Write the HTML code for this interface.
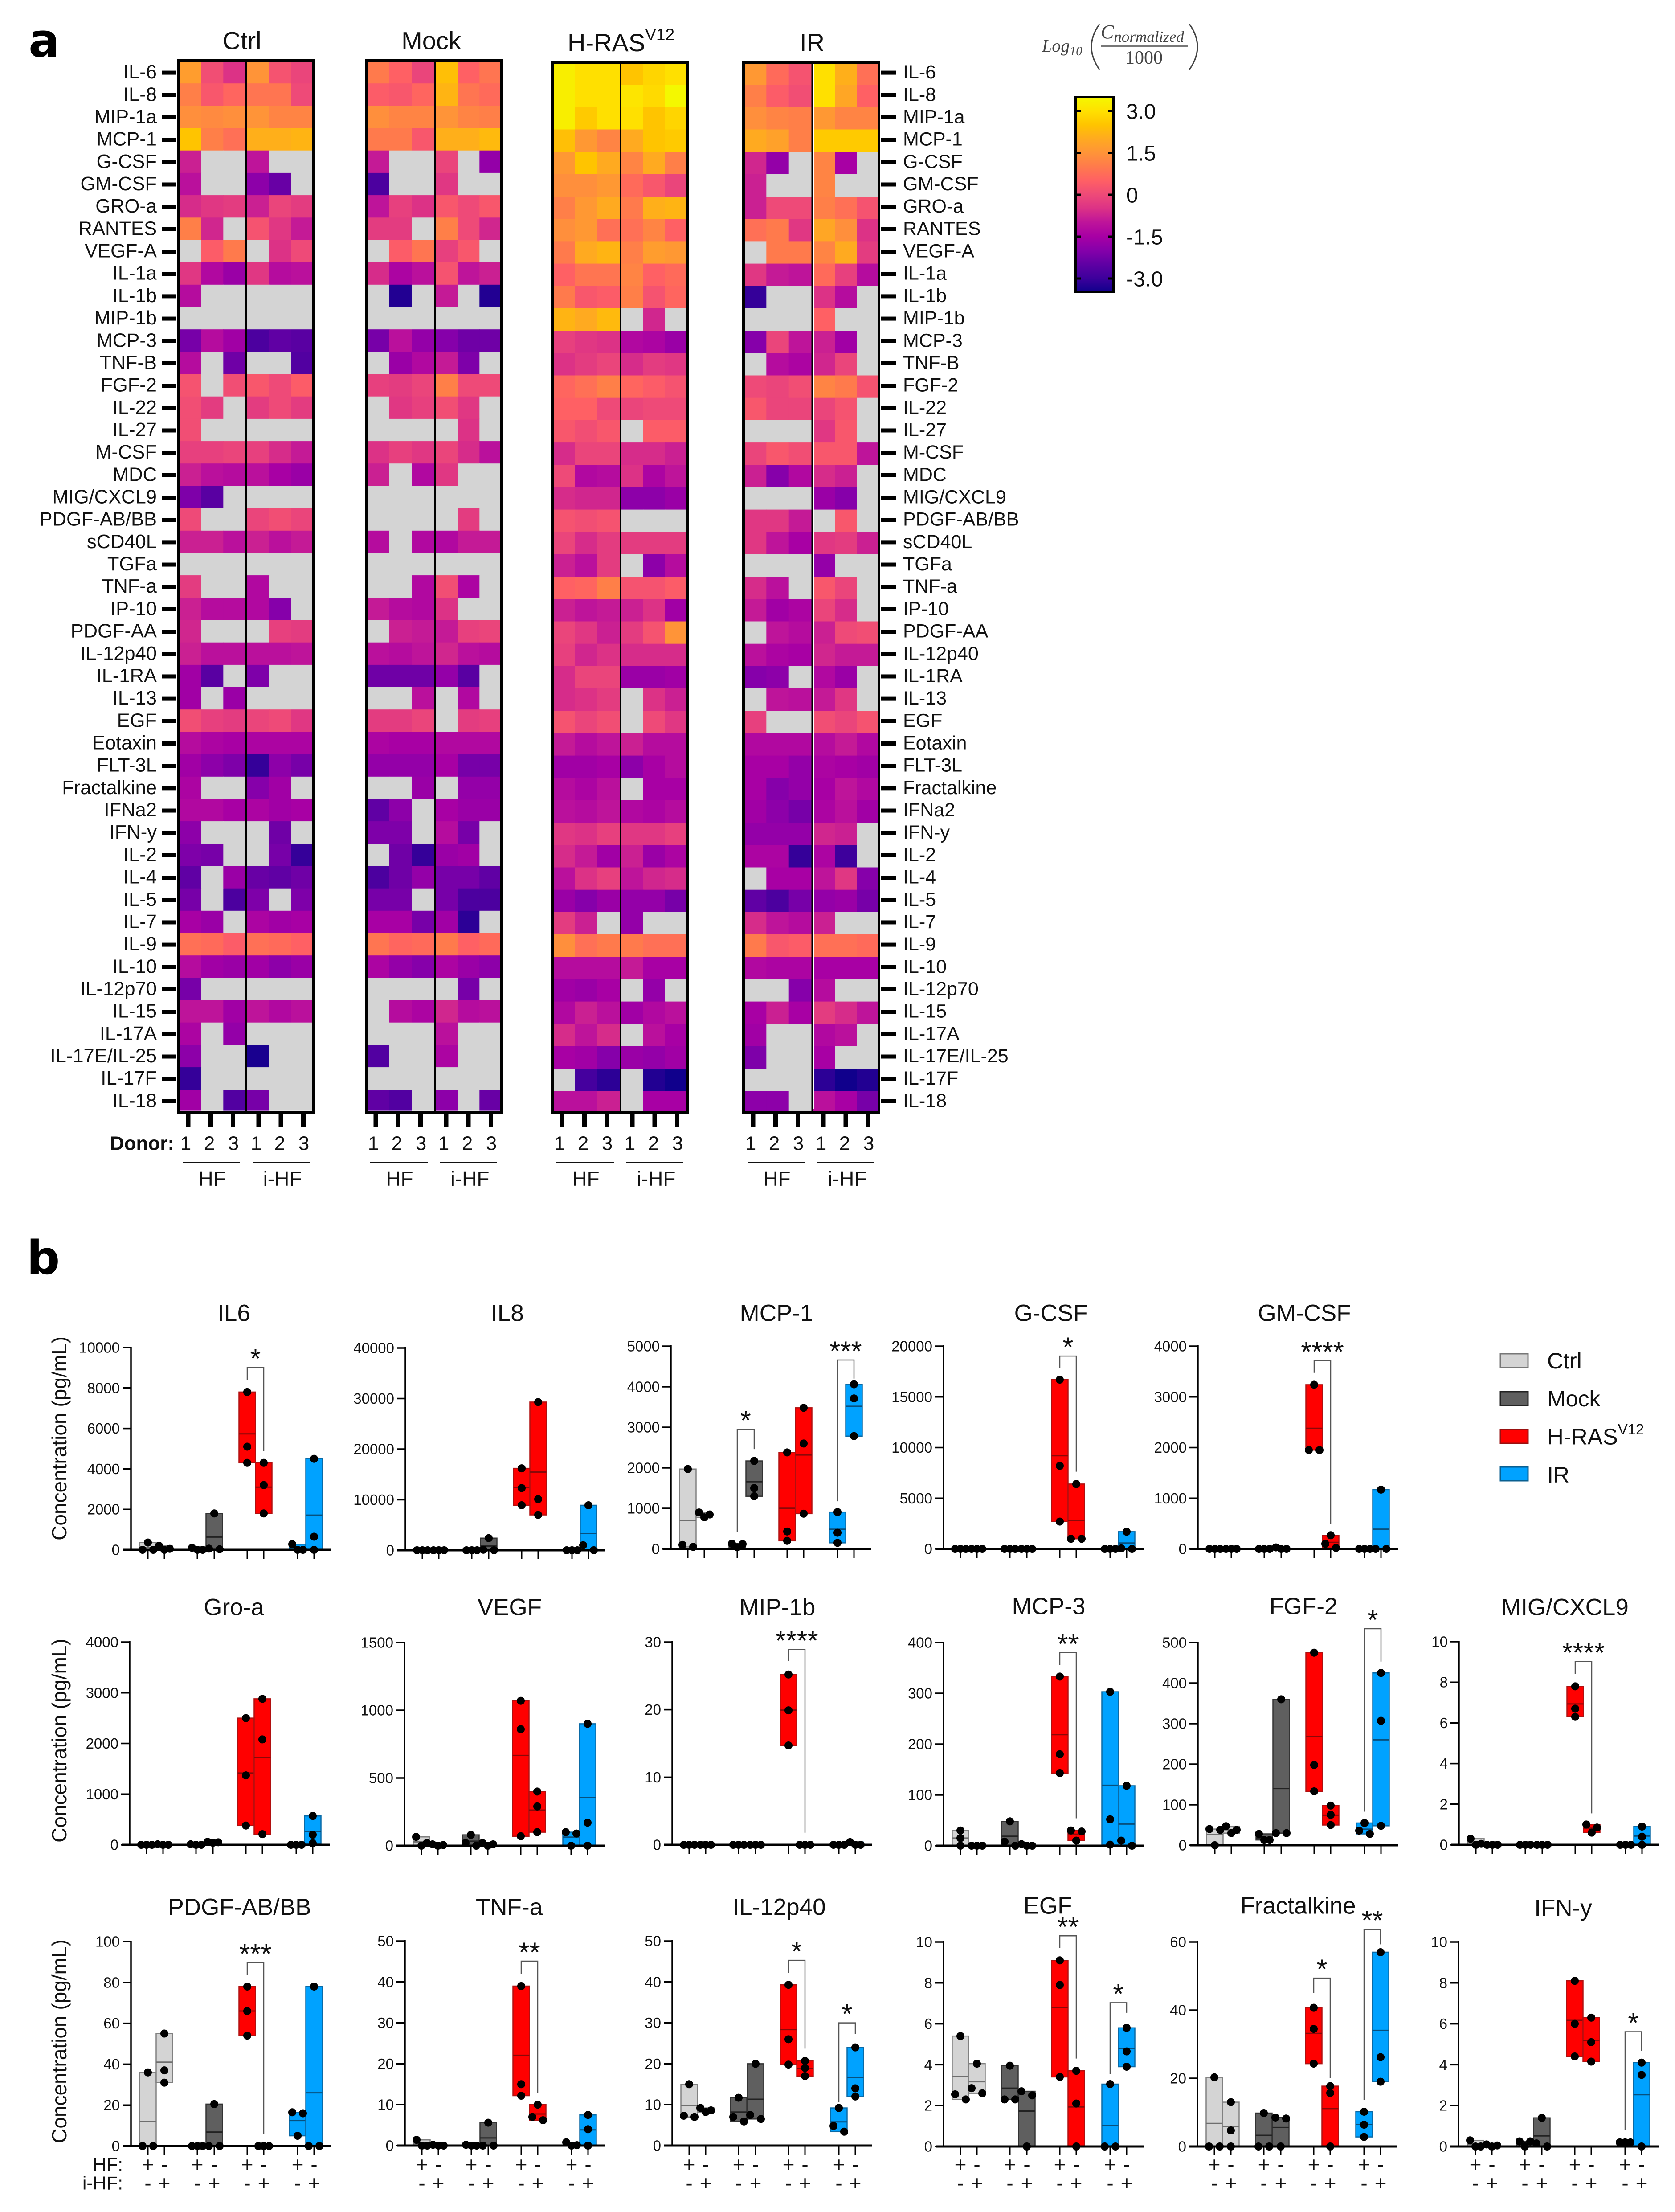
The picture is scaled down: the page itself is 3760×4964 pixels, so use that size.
<!DOCTYPE html>
<html lang="en">
<head>
<meta charset="utf-8">
<title>Cytokine heatmap and concentration charts</title>
<style>
html,body{margin:0;padding:0;background:#fff;}
svg{display:block;}
text{font-family:"Liberation Sans",Arial,sans-serif;fill:#111;}
.serif{font-family:"Liberation Serif",serif;font-style:italic;fill:#444;}
</style>
</head>
<body>
<svg id="figure" xmlns="http://www.w3.org/2000/svg" width="3760" height="4964" viewBox="0 0 3760 4964">
  <rect x="0" y="0" width="3760" height="4964" fill="#ffffff"/>
  <text x="64" y="127" font-size="104" font-weight="bold" style="font-family:'DejaVu Sans',sans-serif;fill:#000">a</text>
  <text x="60" y="2859" font-size="104" font-weight="bold" style="font-family:'DejaVu Sans',sans-serif;fill:#000">b</text>

  <g>
    <text class="serif" x="2339" y="116" font-size="40">Log<tspan font-size="28" dy="8">10</tspan></text>
    <path d="M2468 54 Q2432 105 2468 156" fill="none" stroke="#444" stroke-width="3"/>
    <text class="serif" x="2471" y="86" font-size="44">C<tspan font-size="35" dy="8">normalized</tspan></text>
    <rect x="2471" y="101" width="195" height="4" fill="#777"/>
    <text class="serif" x="2568" y="143" font-size="42" text-anchor="middle" style="font-style:normal">1000</text>
    <path d="M2670 54 Q2706 105 2670 156" fill="none" stroke="#444" stroke-width="3"/>
  </g>

  <g>
    <g>
      <rect x="3368" y="3038" width="62" height="31" fill="#d4d4d4" stroke="#777" stroke-width="3"/>
      <text x="3473" y="3054" font-size="50" dominant-baseline="central">Ctrl</text>
    </g>
    <g>
      <rect x="3368" y="3123" width="62" height="31" fill="#5f5f5f" stroke="#222" stroke-width="3"/>
      <text x="3473" y="3139" font-size="50" dominant-baseline="central">Mock</text>
    </g>
    <g>
      <rect x="3368" y="3208" width="62" height="31" fill="#ff0000" stroke="#991111" stroke-width="3"/>
      <text x="3473" y="3224" font-size="51" dominant-baseline="central">H-RAS<tspan font-size="33" dy="-17">V12</tspan></text>
    </g>
    <g>
      <rect x="3368" y="3292" width="62" height="31" fill="#00a2ff" stroke="#0a5f90" stroke-width="3"/>
      <text x="3473" y="3310" font-size="50" dominant-baseline="central">IR</text>
    </g>
  </g>
</svg>

<script>
const n = null;
const rowLabels = ["IL-6","IL-8","MIP-1a","MCP-1","G-CSF","GM-CSF","GRO-a","RANTES","VEGF-A","IL-1a","IL-1b","MIP-1b","MCP-3","TNF-B","FGF-2","IL-22","IL-27","M-CSF","MDC","MIG/CXCL9","PDGF-AB/BB","sCD40L","TGFa","TNF-a","IP-10","PDGF-AA","IL-12p40","IL-1RA","IL-13","EGF","Eotaxin","FLT-3L","Fractalkine","IFNa2","IFN-y","IL-2","IL-4","IL-5","IL-7","IL-9","IL-10","IL-12p70","IL-15","IL-17A","IL-17E/IL-25","IL-17F","IL-18"];
const donorLabels = ["1","2","3","1","2","3"];
const colorbarTicks = [3.0,1.5,0,-1.5,-3.0];
const colorbarTickLabels = ["3.0","1.5","0","-1.5","-3.0"];

const ctrlValues = [
[1.7,.1,-.5,1.5,.2,-.1],[1.1,.3,.6,.9,.9,0],[1.4,1.3,1.4,1.5,1.2,1.2],[2.5,1.1,.8,2.1,2.1,2.2],
[-.8,n,n,-1.0,n,n],[-1.1,n,n,-1.9,-2.4,n],[-.6,-.4,-.3,-.8,-.1,-.3],[1.1,-.7,n,.2,-.4,-.9],
[n,.4,1.0,n,-.5,0],[-.4,-1.3,-1.7,-.4,-1.2,-1.1],[-1.2,n,n,n,n,n],[n,n,n,n,n,n],
[-2.2,-1.2,-1.6,-2.8,-2.5,-2.6],[-1.2,n,-2.3,n,n,-2.7],[.2,n,.1,.3,0,.4],[.1,-.3,n,-.3,0,-.3],
[.1,n,n,n,n,n],[-.2,-.2,-.1,-.2,-.6,-.9],[-.8,-1.1,-1.2,-1.1,-1.5,-1.7],[-2.1,-2.6,n,n,n,n],
[0,n,n,-.1,.1,-.1],[-.8,-.8,-1.1,-.8,-1.1,-.9],[n,n,n,n,n,n],[-.3,n,n,-1.3,n,n],
[-.8,-1.2,-1.2,-1.3,-2.0,n],[-.7,n,n,n,-.2,-.3],[-.8,-1.1,-1.1,-1.1,-1.1,-1.0],[-1.6,-2.6,n,-2.1,n,n],
[-1.6,n,-1.7,n,n,n],[.1,-.2,-.3,-.1,0,-.4],[-1.2,-1.4,-1.5,-1.4,-1.4,-1.4],[-1.6,-1.9,-2.1,-3.1,-1.9,-2.2],
[-1.4,n,n,-2.0,-1.6,n],[-1.3,-1.3,-1.5,-1.4,-1.6,-1.5],[-1.9,n,n,n,-2.3,n],[-2.1,-2.2,n,n,-2.2,-3.1],
[-2.5,n,-1.7,-2.4,-2.5,-2.3],[-2.2,n,-2.8,-2.1,n,-2.1],[-1.5,-1.7,n,-1.4,-1.6,-1.5],[.8,.7,.4,.8,.7,.5],
[-1.2,-1.6,-1.7,-1.6,-1.9,-1.7],[-2.2,n,n,n,n,n],[-1.0,-1.0,-1.6,-1.0,-1.3,-1.1],[-1.4,n,-1.8,n,n,n],
[-1.9,n,n,-3.4,n,n],[-3.1,n,n,n,n,n],[-1.6,n,-2.7,-2.2,n,n]
];
const mockValues = [
[1.0,.5,-.1,2.4,.5,.9],[.4,.3,.6,2.2,.9,.7],[1.4,1.2,1.2,1.5,1.2,1.1],[1.0,1.0,.3,2.1,2.1,2.3],
[-.9,n,n,-.1,n,-1.8],[-2.8,n,n,-.4,n,n],[-1.0,-.2,-.5,.3,0,.3],[-.3,-.3,n,1.1,0,-.7],
[n,.4,.9,-.2,.3,n],[-.6,-1.4,-1.1,.2,-1.0,-.8],[n,-3.3,n,-.9,n,-3.3],[n,n,n,n,n,n],
[-2.2,-1.1,-1.8,-2.0,-2.3,-2.3],[n,-1.7,-1.3,-.9,-2.1,n],[-.2,-.3,-.1,1.1,0,0],[n,-.4,-.2,.1,-.4,n],
[n,n,n,n,-.5,n],[-.5,-.2,-.4,-.1,-.6,-1.1],[-.8,n,-1.3,-.4,n,n],[n,n,n,n,n,n],
[n,n,n,n,-.3,n],[-1.2,n,-1.3,-1.3,-.9,-.9],[n,n,n,n,n,n],[n,n,-1.3,.1,-1.4,n],
[-.9,-1.2,-1.3,-.5,n,n],[n,-.8,-.9,-.9,-.2,-.1],[-1.1,-1.2,-1.0,-.7,-1.1,-1.2],[-2.3,-2.3,-2.3,-1.8,-2.6,n],
[n,n,-1.1,n,-1.3,n],[-.3,-.3,-.1,n,-.3,-.2],[-1.4,-1.5,-1.5,-1.3,-1.3,-1.3],[-1.8,-1.8,-1.8,-1.5,-2.2,-2.2],
[n,n,-1.7,n,-1.8,-1.8],[-2.5,-1.9,n,-1.5,-1.7,-1.7],[-2.1,-2.1,n,-1.2,-2.2,n],[n,-2.3,-3.1,-1.7,-1.6,n],
[-2.8,-2.3,-1.8,-2.2,-2.2,-2.5],[-2.2,-2.2,n,-2.2,-2.8,-2.8],[-1.5,-1.5,-2.2,-1.6,-3.2,n],[.9,.6,.7,1.0,.5,.7],
[-1.4,-1.8,-2.0,-1.4,-1.7,-1.9],[n,n,n,n,-2.2,n],[n,-1.2,-1.4,-.7,-1.2,-1.1],[n,n,n,-1.1,n,n],
[-2.7,n,n,-1.4,n,n],[n,n,n,n,n,n],[-2.5,-2.7,n,-1.9,n,-2.4]
];
const hrasValues = [
[3.3,3.0,3.0,2.5,2.8,3.0],[3.3,3.0,3.0,3.1,2.9,3.5],[3.3,2.6,3.0,3.0,2.5,2.8],[2.4,1.6,1.2,2.0,2.5,2.6],
[1.6,2.5,2.0,1.2,2.0,1.1],[1.4,1.4,1.6,.7,.3,-.1],[1.1,1.6,2.0,1.0,2.1,2.2],[1.4,1.6,.8,.8,1.2,.5],
[1.0,2.0,2.2,1.1,1.7,1.6],[.5,.9,.9,1.2,.5,.7],[1.0,.3,.4,1.1,.2,.6],[2.2,2.0,2.3,n,-.7,n],
[-.2,-.4,-.5,-1.3,-1.4,-1.7],[-.5,-.3,-.1,-.6,-.3,-.4],[.6,.8,1.1,.6,.4,.2],[.5,.5,0,-.1,0,0],
[.3,.1,.3,n,.4,.4],[-.6,-.1,-.1,-.6,-.6,-.8],[0,-1.3,-1.2,-.5,-1.4,-1.0],[-.6,-.7,-.7,-1.9,-1.9,-1.7],
[.2,.1,.2,n,n,n],[-.1,-.6,-.3,-.3,-.3,-.3],[-.8,-1.1,-.3,n,-1.9,-1.2],[.5,.6,1.1,.2,.2,.4],
[-.8,-1.0,-.9,-.8,-.5,-1.6],[-.1,-.4,-.8,-.3,.2,1.5],[-.2,-.7,-.5,-.6,-.6,-.6],[-.6,-.1,-.1,-1.7,-1.7,-1.6],
[-.6,-.5,-.3,n,-.5,-.8],[.2,-.1,.1,n,0,-.4],[-.9,-1.2,-1.0,-.8,-1.2,-1.2],[-1.6,-1.6,-1.5,-1.9,-1.5,-1.2],
[-1.2,-1.4,-1.1,n,-1.5,-1.5],[-1.1,-1.2,-1.0,-1.3,-1.4,-1.2],[-.4,-.5,-.2,-.4,-.4,-.2],[-.6,-.9,-1.6,-.8,-1.7,-1.4],
[-1.1,-.5,-.2,-1.0,-.7,-.6],[-1.7,-2.0,-1.7,-1.8,-1.8,-2.2],[-.3,-.8,n,-1.8,n,n],[1.4,.8,1.0,1.0,.8,.8],
[-1.2,-1.2,-1.2,-.9,-1.5,-1.5],[-1.6,-1.7,-1.5,n,-1.8,n],[-1.3,-.8,-1.1,-1.6,-1.3,-1.1],[-.6,-1.0,-.6,n,-1.1,-1.5],
[-1.5,-1.6,-2.0,-1.7,-1.8,-1.6],[n,-2.9,-3.2,n,-3.3,-3.5],[-1.1,-1.1,-.8,n,-1.5,-1.5]
];
const irValues = [
[1.6,.7,.2,3.0,2.1,.8],[1.1,.4,.1,3.0,1.9,.5],[1.4,1.2,1.1,1.6,1.2,1.2],[2.0,1.8,1.1,2.6,2.6,2.6],
[-.7,-1.8,n,1.2,-1.5,n],[-.8,n,n,1.2,n,n],[-.8,0,0,1.1,.8,.2],[.8,1.0,-.4,1.9,1.4,-.5],
[n,1.0,1.0,1.2,2.0,-.3],[-.4,-.9,-1.0,.7,-.2,-1.2],[-3.1,n,n,-.5,-1.2,n],[n,n,n,.5,n,n],
[-2.0,-.1,-1.0,-.8,-1.6,n],[n,-1.2,-1.4,-.7,-.1,n],[0,-.1,.1,1.2,1.0,.2],[.3,-.1,-.1,-.1,.2,n],
[n,n,n,-.4,.3,n],[-.1,.3,.1,.3,.3,-1.0],[-.8,-2.0,-1.3,-.6,-.8,n],[n,n,n,-1.7,-2.0,n],
[-.4,-.4,-.9,n,.3,n],[-.4,-1.0,-1.5,-.4,-.3,-.8],[n,n,n,-1.8,n,n],[-.6,-1.1,n,.3,-.1,n],
[-.9,-1.6,-1.4,-.1,-.6,n],[n,-1.0,-1.2,-.8,0,.1],[-1.1,-1.4,-1.5,-.7,-.9,-.9],[-2.0,-1.9,n,-1.3,-1.7,n],
[n,-1.0,-1.1,-.9,-.4,n],[-.2,n,n,.1,-.1,.2],[-1.3,-1.3,-1.3,-1.2,-.9,-1.3],[-1.5,-1.5,-1.8,-1.4,-1.5,-1.6],
[-1.5,-2.0,-1.8,-1.5,-1.0,-1.3],[-1.6,-1.9,-2.2,-1.4,-1.1,-1.6],[-1.8,-1.8,-1.8,-.7,-.8,n],[-1.4,-1.4,-3.1,-1.4,-3.0,n],
[n,-1.5,-1.5,-1.0,-.4,-2.0],[-2.5,-2.8,-2.2,-1.8,-1.7,-2.2],[-.6,-1.0,-1.2,-.8,n,n],[1.0,.3,.4,.8,.8,.7],
[-1.3,-1.4,-1.4,-1.5,-1.5,-1.5],[n,n,-2.0,-1.2,n,n],[-1.5,-.8,-1.5,-.3,-.6,-1.0],[-1.6,n,n,-1.3,-1.1,n],
[-2.1,n,n,-1.5,n,n],[n,n,n,-3.2,-3.6,-3.3],[-1.9,-1.9,n,-1.1,-1.5,-2.2]
];

/* Panel b: three replicate points per bar, order Ctrl HF, Ctrl i-HF, Mock HF, Mock i-HF, H-RAS HF, H-RAS i-HF, IR HF, IR i-HF.
   Bars span min to max; the inner line is the mean. */
const il6Values = [[360,0,0],[200,50,0],[100,0,0],[1800,60,30],[7800,5100,4300],[4300,3200,1800],[280,0,0],[4500,650,0]];
const il8Values = [[0,0,0],[0,0,0],[0,0,0],[2400,100,0],[16200,12300,8900],[29300,10100,7000],[0,0,0],[8900,1000,0]];
const mcp1Values = [[1970,100,50],[900,850,780],[130,120,40],[2170,1500,1300],[2380,430,200],[3480,2600,870],[910,400,150],[4060,3712,2783]];
const gcsfValues = [[0,0,0],[0,0,0],[0,0,0],[0,0,0],[16700,8200,2700],[6400,1000,1000],[0,0,0],[1700,50,0]];
const gmcsfValues = [[0,0,0],[0,0,0],[0,0,0],[30,0,0],[3240,1950,1950],[270,100,20],[0,0,0],[1170,0,0]];
const groaValues = [[0,0,0],[10,0,0],[10,0,0],[60,50,40],[2500,1370,380],[2880,2080,210],[0,0,0],[570,200,30]];
const vegfValues = [[65,20,0],[10,5,0],[80,20,0],[20,10,0],[1070,860,70],[400,290,100],[100,90,0],[900,170,0]];
const mip1bValues = [[0,0,0],[0,0,0],[0,0,0],[0,0,0],[25.2,19.9,14.7],[0,0,0],[0,0,0],[.4,0,0]];
const mcp3Values = [[30,15,0],[0,0,0],[48,8,0],[3,0,0],[333,180,143],[30,28,10],[303,52,2],[118,10,0]];
const fgf2Values = [[40,38,0],[47,38,30],[28,13,13],[360,30,30],[475,198,133],[98,75,50],[55,36,28],[425,307,48]];
const migValues = [[.3,.05,0],[0,0,0],[0,0,0],[0,0,0],[7.8,6.7,6.3],[1.0,.85,.6],[0,0,0],[.9,.4,0]];
const pdgfValues = [[36,0,0],[55,37,31],[0,0,0],[20.5,0,0],[78,66,54],[0,0,0],[16.5,16,5],[78,0,0]];
const tnfaValues = [[1.4,0,0],[.2,0,0],[.2,0,0],[5.6,0,0],[39,15,12.2],[10,7,6.2],[.8,.1,0],[7.5,4,0]];
const il12p40Values = [[15,7.3,7],[9.2,8.6,8.2],[11.7,7,5.9],[20,7.5,6.5],[39.3,26,19.8],[20.7,19,17],[9.2,4.8,3.4],[24,14,12]];
const egfValues = [[5.4,2.55,2.3],[4.05,2.85,2.6],[3.95,2.3,2.3],[2.7,2.5,0],[9.1,7.9,3.4],[3.7,2.1,0],[3.05,0,0],[5.8,4.65,3.9]];
const fractalkineValues = [[20.3,0,0],[13,4.7,0],[9.8,0,0],[8.5,8.2,0],[40.7,34.5,24.3],[17.7,15.7,0],[10.2,6.4,2.8],[57,26.2,19]];
const ifnyValues = [[.3,0,0],[.1,.05,0],[.25,.25,0],[1.4,.15,0],[8.1,6,4.4],[6.3,5.1,4.15],[.2,.2,.2],[4.1,3.5,0]];

const il6Ticks = [0,2000,4000,6000,8000,10000];
const il8Ticks = [0,10000,20000,30000,40000];
const mcp1Ticks = [0,1000,2000,3000,4000,5000];
const gcsfTicks = [0,5000,10000,15000,20000];
const gmcsfTicks = [0,1000,2000,3000,4000];
const groaTicks = [0,1000,2000,3000,4000];
const vegfTicks = [0,500,1000,1500];
const mip1bTicks = [0,10,20,30];
const mcp3Ticks = [0,100,200,300,400];
const fgf2Ticks = [0,100,200,300,400,500];
const migTicks = [0,2,4,6,8,10];
const pdgfTicks = [0,20,40,60,80,100];
const tnfaTicks = [0,10,20,30,40,50];
const il12p40Ticks = [0,10,20,30,40,50];
const egfTicks = [0,2,4,6,8,10];
const fractalkineTicks = [0,20,40,60];
const ifnyTicks = [0,2,4,6,8,10];

/* Significance brackets: first bar, second bar, top value, left end value, right end value, stars */
const il6Brackets = [[4,5,9020,8400,4890,"*"]];
const mcp1Brackets = [[2,3,2950,420,2460,"*"],[6,7,4660,1175,4200,"***"]];
const gcsfBrackets = [[4,5,19030,17820,7620,"*"]];
const gmcsfBrackets = [[4,5,3713,3475,493,"****"]];
const mip1bBrackets = [[4,5,28.9,27.2,1.8,"****"]];
const mcp3Brackets = [[4,5,380,356,54,"**"]];
const fgf2Brackets = [[6,7,534,83,453,"*"]];
const migBrackets = [[4,5,9.02,8.41,1.55,"****"]];
const pdgfBrackets = [[4,5,89.6,83.6,5.7,"***"]];
const tnfaBrackets = [[4,5,45.1,42,12.8,"**"]];
const il12p40Brackets = [[4,5,45.3,42.2,23.7,"*"],[6,7,30,10.6,27.3,"*"]];
const egfBrackets = [[4,5,10.3,9.7,4.3,"**"],[6,7,7.03,3.54,6.54,"*"]];
const fractalkineBrackets = [[4,5,49.4,45,20.1,"*"],[6,7,63.7,13.7,59.3,"**"]];
const ifnyBrackets = [[6,7,5.61,.82,4.68,"*"]];

/* ---------- layout and drawing ---------- */
const SVGNS = "http://www.w3.org/2000/svg";
const figure = document.getElementById("figure");

function mk(tag, attrs, parent) {
  const el = document.createElementNS(SVGNS, tag);
  for (const k in attrs) el.setAttribute(k, attrs[k]);
  (parent || figure).appendChild(el);
  return el;
}
function txt(content, attrs, parent) {
  const el = mk("text", attrs, parent);
  el.textContent = content;
  return el;
}

const colorStops = [
  [-3.5,[16,0,140]],[-3,[62,0,156]],[-2.5,[96,0,164]],[-2,[134,0,170]],[-1.5,[168,0,164]],
  [-1,[190,20,154]],[-.5,[220,50,134]],[0,[238,74,120]],[.5,[255,96,100]],[1,[255,122,76]],
  [1.5,[255,148,56]],[2,[255,170,32]],[2.5,[255,196,0]],[3,[255,224,0]],[3.5,[244,248,0]]
];
function colorOf(v) {
  const c = Math.max(-3.5, Math.min(3.5, v));
  for (let i = 0; i < colorStops.length - 1; i++) {
    const a = colorStops[i], b = colorStops[i + 1];
    if (c <= b[0]) {
      const t = (c - a[0]) / (b[0] - a[0]);
      return "rgb(" + a[1].map((p, j) => Math.round(p + (b[1][j] - p) * t)).join(",") + ")";
    }
  }
  return "rgb(244,248,0)";
}

/* Heatmap */
const ROW_H = 50.18;
const panels = [
  {name:"ctrl", title:"Ctrl", values:ctrlValues, left:398, right:706, divider:553, dy:0, titleX:543, titleY:91, dividerW:4},
  {name:"mock", title:"Mock", values:mockValues, left:819, right:1129, divider:977, dy:0, titleX:968, titleY:91, dividerW:4},
  {name:"h-ras", title:"H-RAS", values:hrasValues, left:1237, right:1546, divider:1393, dy:3, titleX:1274, titleY:95, dividerW:3},
  {name:"ir", title:"IR", values:irValues, left:1666, right:1976, divider:1823, dy:3, titleX:1823, titleY:95, dividerW:3}
];
const tickOffsets = [24.5,75,125,182.5,232.5,283];
const digitOffsets = [19,72,126,177,230,284];

panels.forEach(function (p) {
  const g = mk("g", {});
  
  
  const x0 = p.left + 4, x3 = p.divider - 2, x3b = p.divider + 2, x6 = p.right - 4;
  const leftW = (x3 - x0) / 3, rightW = (x6 - x3b) / 3;
  const top = 137 + p.dy, bottom = 2492 + (p.dy ? 2 : 0);
  p.values.forEach(function (row, r) {
    row.forEach(function (v, c) {
      const x = c < 3 ? x0 + c * leftW : x3b + (c - 3) * rightW;
      const w = c < 3 ? leftW : rightW;
      const y = top + r * ROW_H;
      const h = Math.min(ROW_H, bottom - y);
      const cell = mk("rect", {x:x.toFixed(1), y:y.toFixed(1), width:(w + .6).toFixed(1), height:(h + .6).toFixed(1), fill: v === null ? "#d4d4d4" : colorOf(v)}, g);
      
      
    });
  });
  const frameTop = 133 + p.dy + (p.dy ? 1 : 0);
  const frame = mk("rect", {x:p.left + 3, y:frameTop + 3, width:p.right - p.left - 6, height:2494 - frameTop - 1, fill:"none", stroke:"#000", "stroke-width":6}, g);
  
  
  const div = mk("rect", {x:p.divider - p.dividerW / 2, y:frameTop, width:p.dividerW, height:2498 - frameTop, fill:"#000"}, g);
  
  
  if (p.name === "ir") {
    const whiteLine = mk("rect", {x:p.divider + 1.5, y:frameTop + 6, width:2.5, height:2488 - frameTop - 6, fill:"#fff"}, g);
    
    
  }
  /* panel title */
  if (p.name === "h-ras") {
    const title = txt("", {x:p.titleX, y:p.titleY, "font-size":56, "dominant-baseline":"central"}, g);
    
    
    const t1 = mk("tspan", {}, title); t1.textContent = "H-RAS";
    const t2 = mk("tspan", {"font-size":37, dy:-18}, title); t2.textContent = "V12";
  } else {
    const title = txt(p.title, {x:p.titleX, y:p.titleY, "font-size":56, "text-anchor":"middle", "dominant-baseline":"central"}, g);
    
    
  }
  /* donor ticks and labels */
  donorLabels.forEach(function (d, i) {
    const tick = mk("rect", {x:p.left + tickOffsets[i] - 5, y:2494, width:10, height:36, fill:"#000"}, g);
    
    
    const lab = txt(d, {x:p.left + digitOffsets[i], y:2566, "font-size":44, "text-anchor":"middle", "dominant-baseline":"central"}, g);
    
    
  });
  /* group underlines */
  const u1 = mk("rect", {x:p.left + 12, y:2608, width:129, height:3, fill:"#111"}, g);
  
  
  const u2 = mk("rect", {x:p.left + 169, y:2608, width:128, height:3, fill:"#111"}, g);
  
  
  const hf = txt("HF", {x:p.left + 78, y:2645, "font-size":46, "text-anchor":"middle", "dominant-baseline":"central"}, g);
  
  
  const ihf = txt("i-HF", {x:p.left + 236, y:2645, "font-size":46, "text-anchor":"middle", "dominant-baseline":"central"}, g);
  
  
});

const donorHeader = txt("Donor:", {x:391, y:2566, "font-size":44, "font-weight":"bold", "text-anchor":"end", "dominant-baseline":"central"});



rowLabels.forEach(function (label, r) {
  const y = 137 + ROW_H * (r + .5) + 1;
  const lt = mk("rect", {x:363, y:y - 4.5, width:33, height:9, fill:"#000"});
  
  
  const ll = txt(label, {x:352, y:y - 1, "font-size":43.5, "text-anchor":"end", "dominant-baseline":"central"});
  
  
  const rt = mk("rect", {x:1977, y:y - 4.5, width:35, height:9, fill:"#000"});
  
  
  const rl = txt(label, {x:2027, y:y - 1, "font-size":43, "dominant-baseline":"central"});
  
  
});

/* Colorbar */
const cbY = function (v) { return 437 - v * (94 / 1.5); };
const defs = mk("defs", {});
const grad = mk("linearGradient", {id:"cbGrad", x1:0, y1:0, x2:0, y2:1}, defs);
colorStops.slice().reverse().forEach(function (s) {
  mk("stop", {offset:((3.5 - s[0]) / 7 * 100) + "%", "stop-color":colorOf(s[0])}, grad);
});
const cbBar = mk("rect", {x:2415, y:218, width:85, height:437, fill:"url(#cbGrad)", stroke:"#000", "stroke-width":6});


colorbarTicks.forEach(function (v, i) {
  const y = cbY(v);
  const tl = mk("rect", {x:2415, y:y - 2.5, width:12, height:5, fill:"#000"});
  
  
  const tr = mk("rect", {x:2488, y:y - 2.5, width:12, height:5, fill:"#000"});
  
  
  const lb = txt(colorbarTickLabels[i], {x:2528, y:y + 2, "font-size":48, "dominant-baseline":"central"});
  
  
});

/* Bar charts */
const barOffsets = [38,75,149,187,261,298,374,411];
const barFills = ["#d4d4d4","#d4d4d4","#5f5f5f","#5f5f5f","#ff0000","#ff0000","#00a2ff","#00a2ff"];
const barEdges = ["#808080","#808080","#333333","#333333","#b01010","#b01010","#0a6aa6","#0a6aa6"];
const meanEdges = ["#6e6e6e","#6e6e6e","#222222","#222222","#8a0808","#8a0808","#07507e","#07507e"];
const chartFrames = [
  {title:"IL6", values:il6Values, ticks:il6Ticks, brackets:il6Brackets, axisX:294, top:3024, zero:3478, titleX:525, titleY:2947},
  {title:"IL8", values:il8Values, ticks:il8Ticks, brackets:[], axisX:910, top:3025, zero:3479, titleX:1139, titleY:2947},
  {title:"MCP-1", values:mcp1Values, ticks:mcp1Ticks, brackets:mcp1Brackets, axisX:1506, top:3021, zero:3476, titleX:1743, titleY:2947},
  {title:"G-CSF", values:gcsfValues, ticks:gcsfTicks, brackets:gcsfBrackets, axisX:2118, top:3021, zero:3476, titleX:2359, titleY:2947},
  {title:"GM-CSF", values:gmcsfValues, ticks:gmcsfTicks, brackets:gmcsfBrackets, axisX:2689, top:3021, zero:3476, titleX:2928, titleY:2947},
  {title:"Gro-a", values:groaValues, ticks:groaTicks, brackets:[], axisX:291, top:3685, zero:4140, titleX:525, titleY:3607},
  {title:"VEGF", values:vegfValues, ticks:vegfTicks, brackets:[], axisX:908, top:3686, zero:4142, titleX:1144, titleY:3607},
  {title:"MIP-1b", values:mip1bValues, ticks:mip1bTicks, brackets:mip1bBrackets, axisX:1509, top:3685, zero:4140, titleX:1745, titleY:3607},
  {title:"MCP-3", values:mcp3Values, ticks:mcp3Ticks, brackets:mcp3Brackets, axisX:2118, top:3686, zero:4142, titleX:2354, titleY:3605},
  {title:"FGF-2", values:fgf2Values, ticks:fgf2Ticks, brackets:fgf2Brackets, axisX:2689, top:3686, zero:4141, titleX:2926, titleY:3605},
  {title:"MIG/CXCL9", values:migValues, ticks:migTicks, brackets:migBrackets, axisX:3275, top:3684, zero:4140, titleX:3513, titleY:3607},
  {title:"PDGF-AB/BB", values:pdgfValues, ticks:pdgfTicks, brackets:pdgfBrackets, axisX:294, top:4357, zero:4816, titleX:538, titleY:4280, signs:true, signLabels:true},
  {title:"TNF-a", values:tnfaValues, ticks:tnfaTicks, brackets:tnfaBrackets, axisX:909, top:4356, zero:4815, titleX:1143, titleY:4280, signs:true},
  {title:"IL-12p40", values:il12p40Values, ticks:il12p40Ticks, brackets:il12p40Brackets, axisX:1509, top:4356, zero:4815, titleX:1749, titleY:4280, signs:true},
  {title:"EGF", values:egfValues, ticks:egfTicks, brackets:egfBrackets, axisX:2118, top:4358, zero:4817, titleX:2352, titleY:4277, signs:true},
  {title:"Fractalkine", values:fractalkineValues, ticks:fractalkineTicks, brackets:fractalkineBrackets, axisX:2688, top:4358, zero:4817, titleX:2914, titleY:4277, signs:true},
  {title:"IFN-y", values:ifnyValues, ticks:ifnyTicks, brackets:ifnyBrackets, axisX:3274, top:4358, zero:4817, titleX:3509, titleY:4282, signs:true}
];
const yTitleCenters = [3228,3906,4581];

yTitleCenters.forEach(function (cy) {
  const t = txt("Concentration (pg/mL)", {x:0, y:0, "font-size":46, "text-anchor":"middle", "dominant-baseline":"central", transform:"translate(133 " + cy + ") rotate(-90)", fill:"#222"});
  
  
});

function swarmOffsets(points, yOf) {
  const order = points.map(function (v, i) { return {v:v, i:i, y:yOf(v)}; }).sort(function (a, b) { return a.y - b.y; });
  const offs = new Array(points.length).fill(0);
  let cluster = [];
  function flush() {
    if (cluster.length === 2) { offs[cluster[0].i] = -12; offs[cluster[1].i] = 12; }
    if (cluster.length === 3) { offs[cluster[0].i] = -12; offs[cluster[1].i] = 12; offs[cluster[2].i] = 0; }
    cluster = [];
  }
  order.forEach(function (p) {
    if (cluster.length && p.y - cluster[cluster.length - 1].y >= 15) flush();
    cluster.push(p);
  });
  flush();
  return offs;
}

chartFrames.forEach(function (ch) {
  const g = mk("g", {});
  
  
  const maxV = ch.ticks[ch.ticks.length - 1];
  const yOf = function (v) { return ch.zero - v / maxV * (ch.zero - ch.top); };
  const xOf = function (i) { return ch.axisX + barOffsets[i]; };

  const title = txt(ch.title, {x:ch.titleX, y:ch.titleY, "font-size":53, "text-anchor":"middle", "dominant-baseline":"central"}, g);
  
  

  /* bars */
  ch.values.forEach(function (pts, i) {
    const hi = Math.max.apply(null, pts), lo = Math.min.apply(null, pts);
    const mean = pts.reduce(function (a, b) { return a + b; }, 0) / pts.length;
    const x = xOf(i);
    if (hi > lo) {
      const bar = mk("rect", {x:x - 18.5, y:yOf(hi), width:37, height:yOf(lo) - yOf(hi), fill:barFills[i], stroke:barEdges[i], "stroke-width":2.5}, g);
      
      
      const m = mk("line", {x1:x - 18.5, x2:x + 18.5, y1:yOf(mean), y2:yOf(mean), stroke:meanEdges[i], "stroke-width":3}, g);
      
      
    }
  });

  /* y axis */
  const axis = mk("line", {x1:ch.axisX, x2:ch.axisX, y1:ch.top - 2, y2:ch.zero, stroke:"#000", "stroke-width":3.5}, g);
  
  
  ch.ticks.forEach(function (t) {
    const tk = mk("line", {x1:ch.axisX - 19, x2:ch.axisX, y1:yOf(t), y2:yOf(t), stroke:"#000", "stroke-width":3.5}, g);
    
    
    const lb = txt(String(t), {x:ch.axisX - 25, y:yOf(t), "font-size":33, "text-anchor":"end", "dominant-baseline":"central", fill:"#222"}, g);
    
    
  });

  /* x ticks and baseline */
  barOffsets.forEach(function (o, i) {
    const tk = mk("line", {x1:xOf(i), x2:xOf(i), y1:ch.zero, y2:ch.zero + 20, stroke:"#000", "stroke-width":3}, g);
    
    
  });
  const base = mk("line", {x1:ch.axisX - 18, x2:ch.axisX + 449, y1:ch.zero, y2:ch.zero, stroke:"#000", "stroke-width":5}, g);
  
  

  /* points */
  ch.values.forEach(function (pts, i) {
    const offs = swarmOffsets(pts, yOf);
    pts.forEach(function (v, k) {
      const dot = mk("circle", {cx:xOf(i) + offs[k], cy:yOf(v), r:9, fill:"#000"}, g);
      
      
    });
  });

  /* significance brackets */
  ch.brackets.forEach(function (b) {
    const xa = xOf(b[0]), xb = xOf(b[1]);
    const path = mk("path", {d:"M" + xa + " " + yOf(b[3]) + "V" + yOf(b[2]) + "H" + xb + "V" + yOf(b[4]), fill:"none", stroke:"#555", "stroke-width":2.5}, g);
    
    
    const star = txt(b[5], {x:(xa + xb) / 2, y:yOf(b[2]) - 33 + 34.5, "font-size":62, "text-anchor":"middle"}, g);
    
    
  });

  /* HF / i-HF sign rows */
  if (ch.signs) {
    barOffsets.forEach(function (o, i) {
      const hfOn = i % 2 === 0;
      const s1 = txt(hfOn ? "+" : "-", {x:xOf(i), y:4857, "font-size":46, "text-anchor":"middle", "dominant-baseline":"central"}, g);
      
      
      const s2 = txt(hfOn ? "-" : "+", {x:xOf(i), y:4899, "font-size":46, "text-anchor":"middle", "dominant-baseline":"central"}, g);
      
      
    });
  }
  if (ch.signLabels) {
    const a = txt("HF:", {x:276, y:4857, "font-size":42, "text-anchor":"end", "dominant-baseline":"central"}, g);
    
    
    const c = txt("i-HF:", {x:276, y:4899, "font-size":42, "text-anchor":"end", "dominant-baseline":"central"}, g);
    
    
  }
});
</script>
</body>
</html>
